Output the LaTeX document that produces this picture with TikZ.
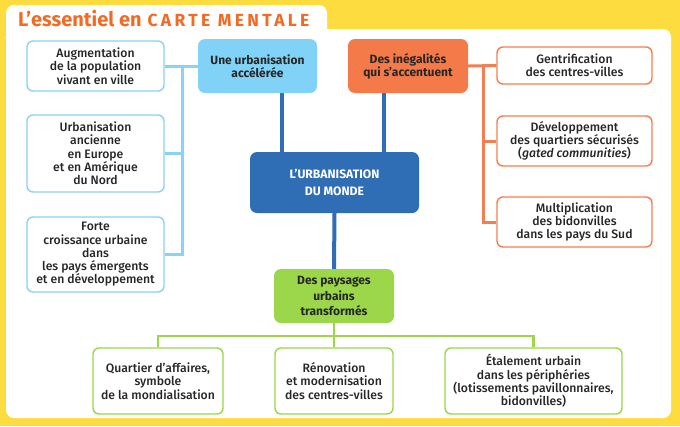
\documentclass[tikz,border=0pt]{standalone}
\usepackage{fontspec}
\setmainfont{Fira Sans}[UprightFont={* Medium}, ItalicFont={* Medium Italic}, BoldFont={* Bold}, BoldItalicFont={* Bold Italic}]
\newfontfamily\titlefont{Fira Sans}[UprightFont={* SemiBold}, BoldFont={* Bold}]
\usetikzlibrary{calc}
\definecolor{yel}{HTML}{FDDC3F}
\definecolor{lblue}{HTML}{8BD3F3}
\definecolor{lbluefill}{HTML}{80D3F6}
\definecolor{dblue}{HTML}{2F6DB4}
\definecolor{orng}{HTML}{F47A4A}
\definecolor{orngline}{HTML}{F37E52}
\definecolor{grn}{HTML}{9BD64B}
\definecolor{ttl}{HTML}{F26A24}
\definecolor{txt}{HTML}{262626}
\pgfdeclarelayer{bg}
\pgfdeclarelayer{lines}
\pgfsetlayers{bg,lines,main}
\begin{document}
\begin{tikzpicture}[x=1pt,y=-1pt,
  every node/.style={font=\fontsize{12.2}{13.3}\selectfont, text=txt, align=center, inner sep=0pt},
  box/.style={draw, fill=white, line width=1.4pt, rounded corners=6pt},
  lb/.style={box, draw=lblue},
  ob/.style={box, draw=orngline},
  gb/.style={box, draw=grn},
  head/.style={rounded corners=7pt, font=\fontsize{12}{13.3}\selectfont\bfseries},
  lbl/.style={draw=lblue, line width=3pt},
  obl/.style={draw=orngline, line width=3pt},
  bbl/.style={draw=dblue, line width=4pt},
  gbl/.style={draw=grn, line width=2.6pt}
]
\useasboundingbox (0,0) rectangle (680,426);
\begin{pgfonlayer}{bg}
  \fill[yel] (0,0) rectangle (680,426);
  \fill[white, rounded corners=8pt] (6,5) rectangle (327,40);
  \fill[white, rounded corners=8pt] (6,29) rectangle (671,418);
\end{pgfonlayer}

\node[anchor=base west, text=ttl] (title) at (18,26)
  {\titlefont\bfseries\fontsize{20}{20}\selectfont L’essentiel en\hspace{6pt}{\fontsize{17.5}{17}\selectfont\addfontfeatures{LetterSpace=19}CARTE MENTALE}};

% left column
\node[lb, minimum width=137pt, minimum height=50pt] (l1) at (95.5,66)
  {Augmentation\\de la population\\vivant en ville};
\node[lb, minimum width=137pt, minimum height=77pt] (l2) at (95.5,153.5)
  {Urbanisation\\ancienne\\en Europe\\et en Amérique\\du Nord};
\node[lb, minimum width=137pt, minimum height=75pt] (l3) at (95.5,254.5)
  {Forte\\croissance urbaine\\dans\\les pays émergents\\et en développement};

% main nodes
\node[head, fill=lbluefill, minimum width=119pt, minimum height=54pt] (uu) at (257.5,66)
  {Une urbanisation\\accélérée};
\node[head, fill=orng, minimum width=120pt, minimum height=54pt] (in) at (408,66)
  {Des inégalités\\qui s’accentuent};
\node[head, fill=dblue, text=white, minimum width=169pt, minimum height=61pt,
      font=\fontsize{12.2}{16.5}\selectfont\bfseries] (ctr) at (334.5,182.5)
  {L’URBANISATION\\DU MONDE};
\node[head, fill=grn, minimum width=120pt, minimum height=54pt,
      font=\fontsize{12}{15.5}\selectfont\bfseries] (gn) at (334,296)
  {Des paysages\\urbains\\transformés};

% right column
\node[ob, minimum width=155pt, minimum height=37pt] (r1) at (574.5,65.5)
  {Gentrification\\des centres-villes};
\node[ob, minimum width=155pt, minimum height=50pt] (r2) at (574.5,141)
  {Développement\\des quartiers sécurisés\\(\textit{gated communities})};
\node[ob, minimum width=155pt, minimum height=50pt] (r3) at (574.5,222)
  {Multiplication\\des bidonvilles\\dans les pays du Sud};

% bottom row
\node[gb, minimum width=130pt, minimum height=66pt] (b1) at (158,381)
  {Quartier d’affaires,\\symbole\\de la mondialisation};
\node[gb, minimum width=118pt, minimum height=66pt] (b2) at (334,381)
  {Rénovation\\et modernisation\\des centres-villes};
\node[gb, minimum width=177pt, minimum height=66pt] (b3) at (533.5,381)
  {Étalement urbain\\dans les périphéries\\(lotissements pavillonnaires,\\bidonvilles)};

\coordinate (jl) at (182,0);
\coordinate (jo) at (483,0);
\coordinate (bl) at (282,0);
\coordinate (br) at (384,0);
\coordinate (gy) at (0,336);

\begin{pgfonlayer}{lines}
  \draw[lbl] (l1.east) -- (uu.west);
  \draw[lbl] (l3.east) -- (l3.east -| jl) -- (l1.east -| jl);
  \draw[lbl] (l2.east) -- (l2.east -| jl);
  \draw[obl] (in.east) -- (r1.west);
  \draw[obl] (r3.west) -- (r3.west -| jo) -- (r1.west -| jo);
  \draw[obl] (r2.west) -- (r2.west -| jo);
  \draw[bbl] (uu.south -| bl) -- (ctr.north -| bl);
  \draw[bbl] (in.south -| br) -- (ctr.north -| br);
  \draw[bbl] (ctr.south) -- (gn.north);
  \draw[gbl] (gn.south) -- (gn.south |- gy);
  \draw[gbl] (b1.north) -- (b1.north |- gy) -- (b3.north |- gy) -- (b3.north);
  \draw[gbl] (b2.north |- gy) -- (b2.north);
\end{pgfonlayer}
\end{tikzpicture}
\end{document}
